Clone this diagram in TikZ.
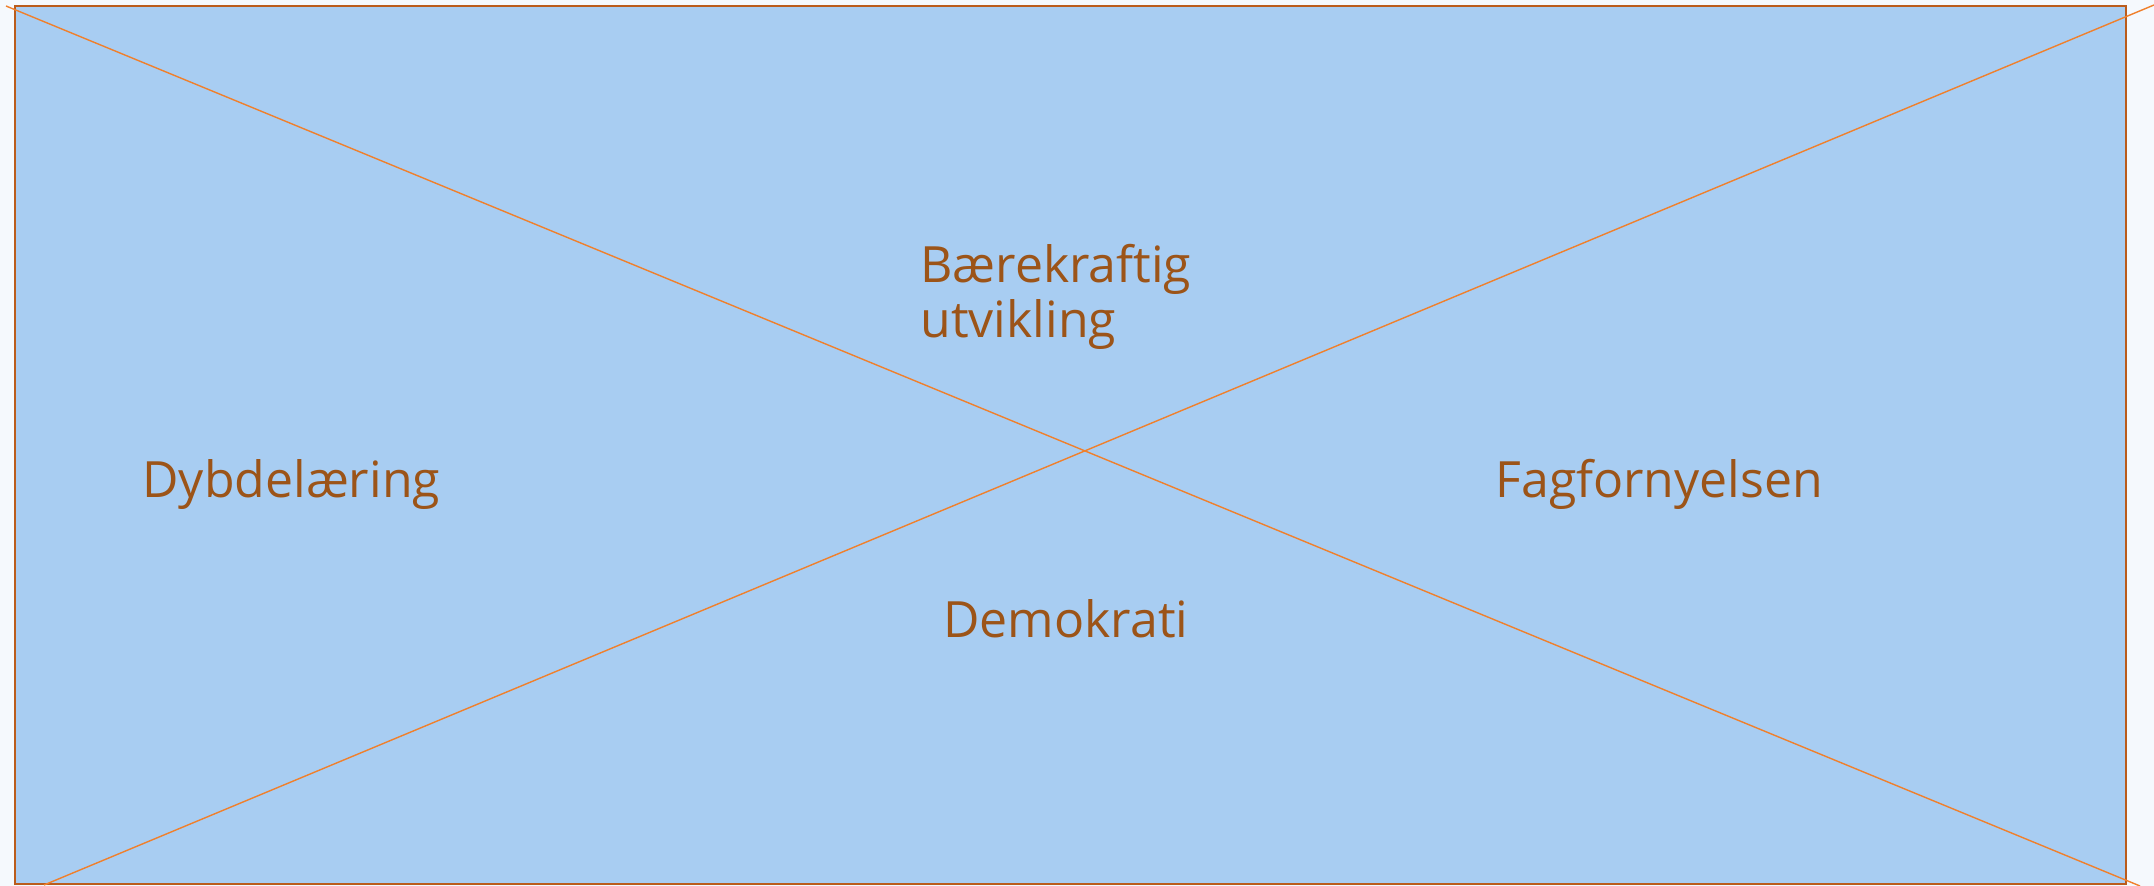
\documentclass[tikz,border=0pt]{standalone}
\usepackage{fontspec}
\setmainfont{Open Sans}
\definecolor{pagebg}{HTML}{F5F9FD}
\definecolor{panelblue}{HTML}{A8CDF2}
\definecolor{panelrim}{HTML}{BA5C1C}
\definecolor{crossline}{HTML}{F0802C}
\definecolor{wordbrown}{HTML}{9C5418}
\begin{document}
\begin{tikzpicture}[x=0.5pt,y=-0.5pt,
  topic/.style={text=wordbrown, font=\fontsize{25}{27.5}\selectfont, inner sep=0pt, anchor=base west, align=left},
  cross/.style={draw=crossline, line width=0.7pt}]
\useasboundingbox (0,0) rectangle (2154,886);
\fill[pagebg] (0,0) rectangle (2154,886);
% Panel
\draw[fill=panelblue, draw=panelrim, line width=1.3pt] (15,6) rectangle (2126,884);
% Cross
\coordinate (tl) at (6,6);
\coordinate (br) at (2140,886);
\coordinate (bl) at (44,885);
\coordinate (tr) at (2154,5);
\draw[cross] (tl) -- (br);
\draw[cross] (bl) -- (tr);
% Topics
\node[topic] (deep) at (142,498) {Dybdelæring};
\node[topic] (renewal) at (1495,498) {Fagfornyelsen};
\node[topic] (sustain) at (920,338) {Bærekraftig\\utvikling};
\node[topic] (democracy) at (943,638) {Demokrati};
\end{tikzpicture}
\end{document}
